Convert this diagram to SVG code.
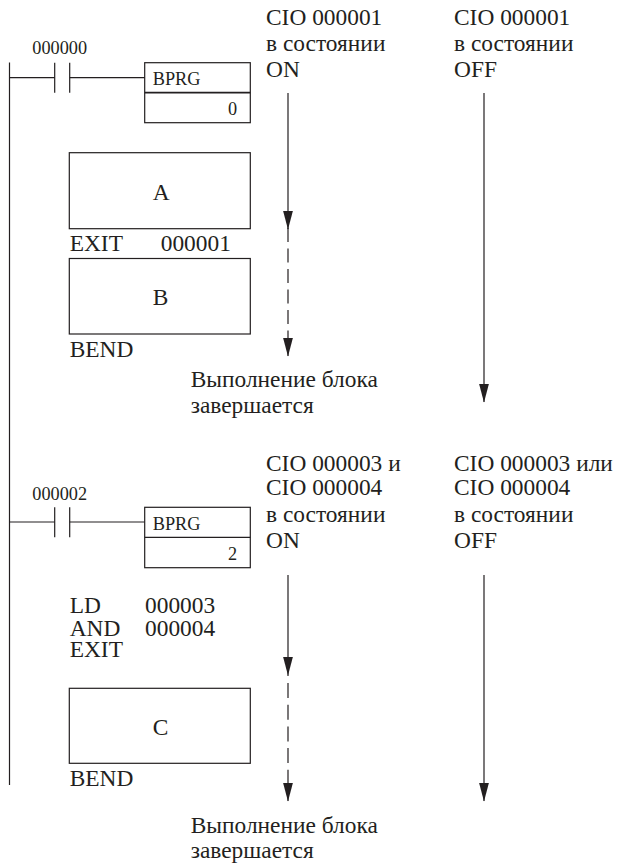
<svg xmlns="http://www.w3.org/2000/svg" width="617" height="863" viewBox="0 0 617 863">
<style>
text{font-family:"Liberation Serif","Times New Roman",serif;fill:#231f20;font-size:23.4px}
.s{font-size:18.3px}
.l{fill:none;stroke:#231f20;stroke-width:1.2}
.box{fill:#fff;stroke:#231f20;stroke-width:1.2}
.d{stroke-dasharray:14 6.5}
.e{stroke-dasharray:15 6.7}
</style>
<defs>
<marker id="ah" markerUnits="userSpaceOnUse" markerWidth="19" markerHeight="10" refX="18.500" refY="5" orient="auto" viewBox="0 0 19 10"><path d="M0 0L19 5L0 10Z" fill="#231f20"/></marker>
</defs>
<g id="connectors">
<path class="l" d="M9.5 62.500V785"/>
<path class="l" d="M9.5 77.700H54.700M69.700 77.700H145"/>
<path class="l" d="M9.5 522H54.700M69.700 522H145"/>
<path class="l" d="M288 93V229" marker-end="url(#ah)"/>
<path class="l d" d="M288 228V356" marker-end="url(#ah)"/>
<path class="l" d="M484 93V402" marker-end="url(#ah)"/>
<path class="l" d="M288 575V675" marker-end="url(#ah)"/>
<path class="l" d="M288 675V676"/>
<path class="l e" d="M288 683V801" marker-end="url(#ah)"/>
<path class="l" d="M484 575V801" marker-end="url(#ah)"/>
</g>
<g id="contact1"><path class="l" d="M54.700 62.700V92.700M69.700 62.700V92.700"/><text class="s" x="32.300" y="54.300">000000</text></g>
<g id="bprg1"><rect class="box" x="144.700" y="62.700" width="105.600" height="60"/><path class="l" d="M144.700 92.700H250.300" style="stroke-width:1.7"/><text class="s" x="152.700" y="85">BPRG</text><text class="s" x="228" y="115">0</text></g>
<g id="blockA"><rect class="box" x="69.300" y="152.700" width="181" height="76"/><text x="152.700" y="200">A</text></g>
<g id="exit1"><text x="69.700" y="251">EXIT</text><text x="160.700" y="251">000001</text></g>
<g id="blockB"><rect class="box" x="69.300" y="258.500" width="181" height="75.500"/><text x="152.700" y="305">B</text></g>
<g id="bend1"><text x="69.700" y="356.700">BEND</text></g>
<g id="end1"><text x="190.700" y="387.300">Выполнение блока</text><text x="190.700" y="413.300">завершается</text></g>
<g id="on1"><text x="266" y="25">CIO 000001</text><text x="266" y="50.700">в состоянии</text><text x="266" y="77">ON</text></g>
<g id="off1"><text x="454" y="25">CIO 000001</text><text x="454" y="50.700">в состоянии</text><text x="454" y="77">OFF</text></g>
<g id="on2"><text x="266" y="470.700">CIO 000003 и</text><text x="266" y="495">CIO 000004</text><text x="266" y="522.300">в состоянии</text><text x="266" y="548">ON</text></g>
<g id="off2"><text x="454" y="470.700">CIO 000003 или</text><text x="454" y="495">CIO 000004</text><text x="454" y="522.300">в состоянии</text><text x="454" y="548">OFF</text></g>
<g id="contact2"><path class="l" d="M54.700 507.300V537.300M69.700 507.300V537.300"/><text class="s" x="32.300" y="500">000002</text></g>
<g id="bprg2"><rect class="box" x="144.700" y="507.300" width="105.600" height="60.400"/><path class="l" d="M144.700 537.300H250.300"/><text class="s" x="152.700" y="530">BPRG</text><text class="s" x="228" y="560">2</text></g>
<g id="exit2"><text x="69.700" y="613.300">LD</text><text x="145" y="613.300">000003</text><text x="69.700" y="636">AND</text><text x="145" y="636">000004</text><text x="69.700" y="657.300">EXIT</text></g>
<g id="blockC"><rect class="box" x="69.300" y="688.300" width="181" height="75"/><text x="152.700" y="735">C</text></g>
<g id="bend2"><text x="69.700" y="786">BEND</text></g>
<g id="end2"><text x="190.700" y="832.700">Выполнение блока</text><text x="190.700" y="858.300">завершается</text></g>
</svg>
